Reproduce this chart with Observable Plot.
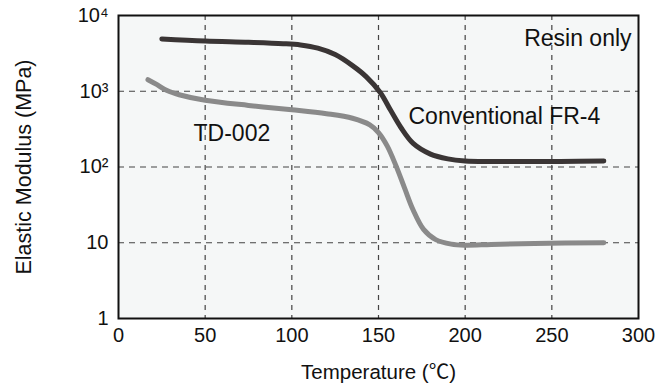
<!DOCTYPE html>
<html>
<head>
<meta charset="utf-8">
<script src="https://cdn.jsdelivr.net/npm/d3@7"></script>
<script src="https://cdn.jsdelivr.net/npm/@observablehq/plot@0.6"></script>
<style>
  html, body { margin: 0; padding: 0; background: #ffffff; }
  svg { font-family: "Liberation Sans", Arial, "Noto Sans CJK JP", sans-serif; }
</style>
</head>
<body>
<div id="chart"></div>
<script>
// Conventional FR-4 (resin only)
const fr4Temp = [25, 50, 75, 95, 105, 115, 125, 135, 143, 151, 157, 163, 170, 180, 190, 200, 215, 235, 255, 280];
const fr4Mod  = [4900, 4600, 4430, 4250, 4080, 3700, 3050, 2180, 1550, 964, 560, 330, 205, 148, 128, 120, 118, 118, 118, 120];

// TD-002
const tdTemp = [17, 22, 28, 35, 50, 75, 100, 120, 135, 145, 150, 155, 160, 165, 170, 176, 183, 192, 200, 215, 240, 280];
const tdMod  = [1420, 1230, 1020, 900, 760, 650, 570, 505, 440, 360, 285, 190, 105, 53, 27, 15, 11, 9.6, 9.3, 9.5, 9.8, 10];

const xTicks = [0, 50, 100, 150, 200, 250, 300];
const yTicks = [1, 10, 100, 1000, 10000];
const yTickLabels = ["1", "10", "10\u00b2", "10\u00b3", "10\u2074"];
const xGrid = [50, 100, 150, 200, 250];
const yGrid = [10, 100, 1000];

const annoText = ["Resin only", "Conventional FR-4", "TD-002"];
const annoTemp = [296, 167.3, 43.3];
const annoMod  = [4950, 459, 276];

const fr4 = fr4Temp.map((t, i) => ({t, m: fr4Mod[i]}));
const td = tdTemp.map((t, i) => ({t, m: tdMod[i]}));
const annos = annoText.map((s, i) => ({s, t: annoTemp[i], m: annoMod[i]}));

const chart = Plot.plot({
  width: 662,
  height: 386,
  marginLeft: 118,
  marginRight: 24,
  marginTop: 15,
  marginBottom: 68,
  style: {fontSize: "20px", color: "#111", background: "#ffffff"},
  x: {domain: [0, 300]},
  y: {type: "log", domain: [1, 10000]},
  marks: [
    Plot.frame({fill: "#f5f7f7", stroke: null}),
    Plot.ruleX(xGrid, {stroke: "#444", strokeWidth: 1.2, strokeDasharray: "5,5"}),
    Plot.ruleY(yGrid, {stroke: "#444", strokeWidth: 1.2, strokeDasharray: "6,5"}),
    Plot.line(td, {x: "t", y: "m", stroke: "#8a8a8a", strokeWidth: 5, curve: "catmull-rom", strokeLinecap: "round"}),
    Plot.line(fr4, {x: "t", y: "m", stroke: "#3a3535", strokeWidth: 5, curve: "catmull-rom", strokeLinecap: "round"}),
    Plot.text(annos.slice(0, 1), {x: "t", y: "m", text: "s", textAnchor: "end", fontSize: 23, fill: "#111"}),
    Plot.text(annos.slice(1), {x: "t", y: "m", text: "s", textAnchor: "start", fontSize: 23, fill: "#111"}),
    Plot.frame({stroke: "#111", strokeWidth: 2}),
    Plot.axisX({ticks: xTicks, tickSize: 0, tickPadding: 9, fontSize: 20,
      label: "Temperature (\u2103)", labelAnchor: "center", labelOffset: 60, labelArrow: "none"}),
    Plot.axisY({ticks: yTicks, tickSize: 0, tickPadding: 10, fontSize: 20,
      tickFormat: (d) => yTickLabels[yTicks.indexOf(d)],
      label: "Elastic Modulus (MPa)", labelAnchor: "center", labelOffset: 103, labelArrow: "none"})
  ]
});
// enlarge axis titles slightly
d3.select(chart).selectAll('g[aria-label="y-axis label"] text').style("font-size", "21.5px");
d3.select(chart).selectAll('g[aria-label="x-axis label"] text').style("font-size", "20.5px");
document.getElementById("chart").appendChild(chart);
</script>
</body>
</html>
